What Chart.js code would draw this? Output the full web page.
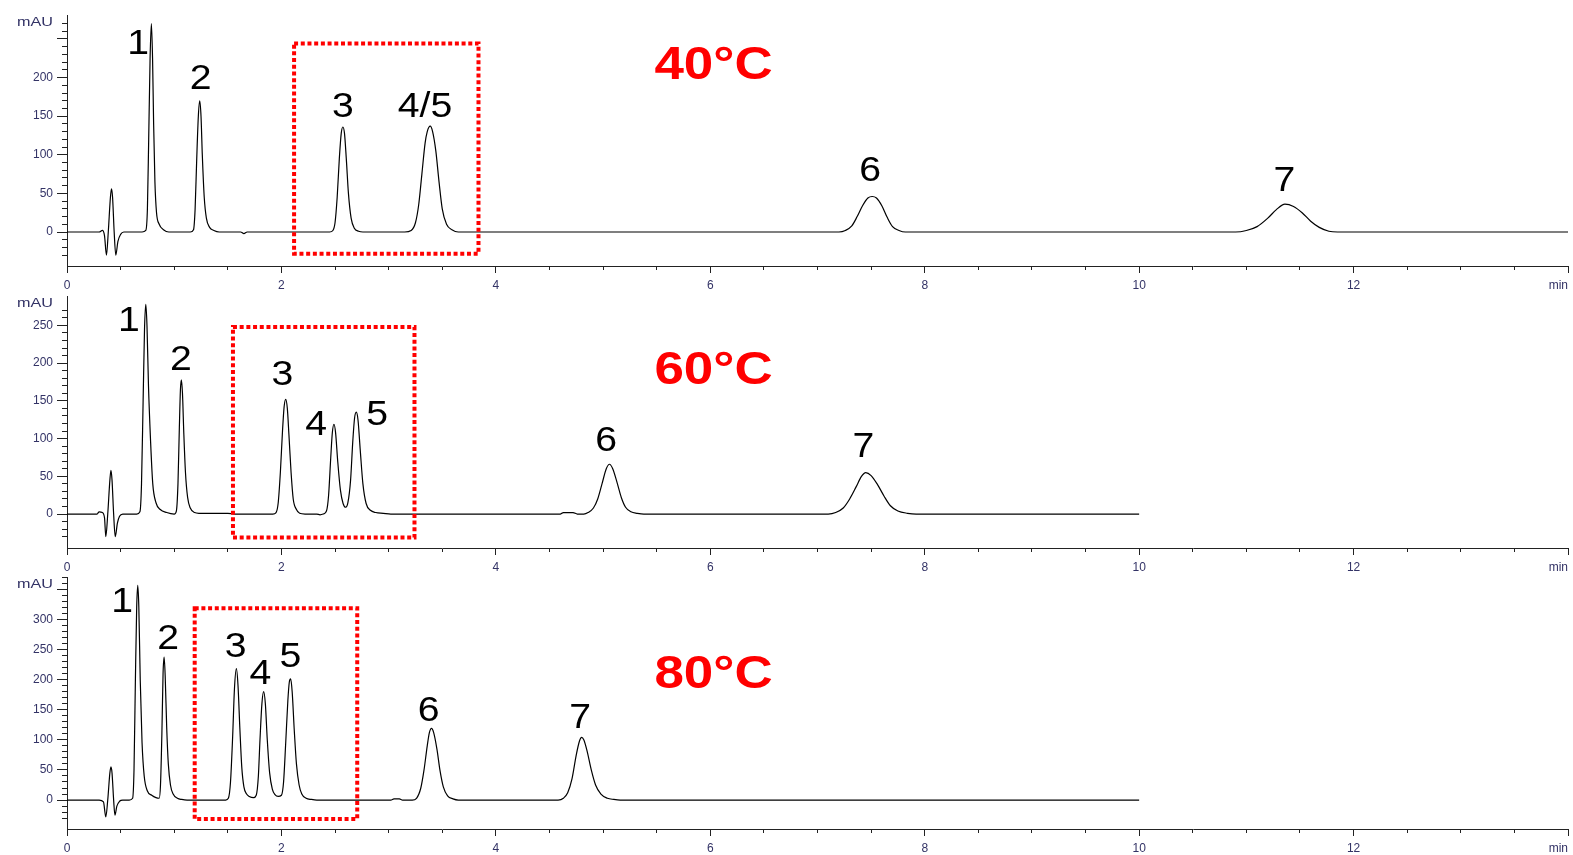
<!DOCTYPE html>
<html>
<head>
<meta charset="utf-8">
<title>Chromatograms at 40, 60 and 80 °C</title>
<script src="https://cdn.jsdelivr.net/npm/chart.js@4.4.0/dist/chart.umd.min.js"></script>
<style>
  body { margin: 0; background: #fff; }
  .panel { position: absolute; left: 0; }
</style>
</head>
<body>
<div class="panel" style="top:0px"><canvas id="c40" width="1573" height="294"></canvas></div>
<div class="panel" style="top:280px"><canvas id="c60" width="1573" height="296"></canvas></div>
<div class="panel" style="top:560px"><canvas id="c80" width="1573" height="295"></canvas></div>
<script>
// 40 °C trace (min / mAU)
const time40 = [
  0, 0.30, 0.33, 0.35, 0.368, 0.385, 0.405, 0.415, 0.425, 0.44, 0.455, 0.475, 0.5, 0.53,
  0.70, 0.735, 0.75, 0.762, 0.775, 0.787, 0.798, 0.808, 0.82, 0.835, 0.86, 0.9, 0.95,
  1.15, 1.18, 1.195, 1.21, 1.225, 1.238, 1.25, 1.262, 1.28, 1.30, 1.33, 1.37, 1.42,
  1.62, 1.65, 1.68,
  2.45, 2.48, 2.50, 2.52, 2.54, 2.558, 2.573, 2.588, 2.605, 2.625, 2.65, 2.68, 2.72, 2.76,
  3.15, 3.21, 3.25, 3.28, 3.31, 3.34, 3.36, 3.388, 3.41, 3.44, 3.47, 3.50, 3.54, 3.59, 3.65,
  7.20, 7.26, 7.32, 7.37, 7.42, 7.47, 7.51, 7.55, 7.60, 7.65, 7.70, 7.76, 7.82,
  10.9, 11.0, 11.1, 11.2, 11.28, 11.36, 11.44, 11.52, 11.6, 11.68, 11.77, 11.85, 14.0
];
const signal40 = [
  0, 0, 2, -5, -30, 0, 45, 56, 45, 0, -30, -12, -3, 0,
  0, 2, 30, 120, 225, 270, 225, 140, 65, 25, 10, 3, 0,
  0, 3, 30, 95, 150, 170, 150, 100, 45, 18, 6, 2, 0,
  0, -2, 0,
  0, 2, 12, 45, 95, 128, 136, 128, 95, 50, 18, 5, 1, 0,
  0, 2, 12, 35, 75, 115, 130, 137, 130, 105, 65, 30, 10, 3, 0,
  0, 2, 8, 20, 34, 44, 46, 44, 34, 19, 7, 2, 0,
  0, 2, 7, 18, 29, 36, 33, 25, 14, 6, 1, 0, 0
];

// 60 °C trace
const time60 = [
  0, 0.28, 0.30, 0.33, 0.35, 0.362, 0.38, 0.40, 0.41, 0.42, 0.435, 0.45, 0.47, 0.49, 0.52,
  0.65, 0.68, 0.695, 0.71, 0.723, 0.735, 0.746, 0.76, 0.78, 0.80, 0.83, 0.87, 0.93,
  1.00, 1.02, 1.035, 1.048, 1.058, 1.067, 1.077, 1.09, 1.105, 1.125, 1.15, 1.19, 1.23, 1.5, 1.56,
  1.92, 1.95, 1.97, 1.99, 2.01, 2.025, 2.04, 2.055, 2.07, 2.09, 2.11, 2.14, 2.17, 2.22, 2.33, 2.36, 2.39,
  2.42, 2.44, 2.46, 2.475, 2.49, 2.505, 2.525, 2.55, 2.575, 2.60,
  2.62, 2.645, 2.665, 2.682, 2.698, 2.714, 2.735, 2.76, 2.79, 2.83, 2.88, 2.95, 3.02,
  4.60, 4.63, 4.72, 4.76,
  4.82, 4.86, 4.91, 4.95, 4.99, 5.03, 5.06, 5.09, 5.13, 5.17, 5.21, 5.26, 5.32, 5.38,
  7.10, 7.17, 7.24, 7.30, 7.36, 7.41, 7.45, 7.50, 7.56, 7.62, 7.68, 7.75, 7.84, 7.92, 10.0
];
const signal60 = [
  0, 0, 3, 2, -5, -30, 0, 45, 58, 45, 0, -30, -12, -3, 0,
  0, 3, 40, 150, 245, 278, 250, 170, 95, 40, 15, 6, 2,
  0, 4, 40, 115, 165, 178, 160, 105, 55, 22, 8, 2, 1, 1, 0,
  0, 2, 15, 55, 110, 142, 152, 140, 105, 55, 20, 6, 1, 0, 0, -1, 0,
  4, 25, 75, 108, 119, 108, 70, 32, 14, 9,
  15, 45, 95, 127, 135, 125, 85, 40, 14, 5, 2, 1, 0,
  0, 2, 2, 0,
  0, 2, 8, 20, 40, 60, 66, 60, 42, 22, 9, 3, 1, 0,
  0, 2, 8, 20, 36, 50, 55, 51, 39, 24, 11, 4, 1, 0, 0
];

// 80 °C trace
const time80 = [
  0, 0.30, 0.34, 0.362, 0.38, 0.40, 0.41, 0.42, 0.435, 0.447, 0.465, 0.49, 0.52,
  0.58, 0.612, 0.625, 0.638, 0.650, 0.66, 0.67, 0.683, 0.70, 0.72, 0.75, 0.79, 0.83,
  0.86, 0.872, 0.885, 0.896, 0.906, 0.916, 0.93, 0.945, 0.965, 0.99, 1.03, 1.07, 1.12,
  1.48, 1.505, 1.525, 1.545, 1.562, 1.58, 1.595, 1.612, 1.63, 1.65, 1.675, 1.70, 1.74,
  1.765, 1.785, 1.80, 1.818, 1.834, 1.85, 1.868, 1.89, 1.915, 1.94, 1.97,
  2.00, 2.02, 2.04, 2.06, 2.073, 2.086, 2.10, 2.12, 2.14, 2.165, 2.19, 2.23, 2.28, 2.33,
  3.02, 3.05, 3.10, 3.13,
  3.22, 3.26, 3.30, 3.33, 3.36, 3.38, 3.40, 3.42, 3.45, 3.48, 3.51, 3.55, 3.60, 3.65,
  4.58, 4.63, 4.67, 4.71, 4.75, 4.78, 4.80, 4.82, 4.85, 4.89, 4.93, 4.98, 5.04, 5.10, 5.16, 10.0
];
const signal80 = [
  0, 0, -3, -28, 0, 45, 55, 45, 0, -25, -10, -2, 0,
  0, 3, 50, 200, 320, 356, 320, 200, 95, 40, 15, 8, 4,
  3, 25, 110, 210, 237, 205, 120, 60, 25, 10, 3, 1, 0,
  0, 3, 30, 105, 185, 218, 190, 120, 55, 22, 10, 6, 4,
  8, 40, 100, 160, 180, 160, 100, 45, 18, 9, 6,
  8, 30, 95, 165, 195, 201, 180, 115, 60, 25, 10, 3, 1, 0,
  0, 2, 2, 0,
  0, 3, 20, 50, 90, 112, 119, 112, 85, 48, 22, 7, 2, 0,
  0, 3, 12, 35, 75, 98, 104, 100, 82, 50, 25, 10, 3, 1, 0, 0
];

// peak numbers, anchored at (min, mAU)
const peaks40 = ['1', '2', '3', '4/5', '6', '7'];
const peakTime40 = [0.664, 1.247, 2.573, 3.339, 7.49, 11.356];
const peakLevel40 = [243, 198, 161, 161, 78, 65];

const peaks60 = ['1', '2', '3', '4', '5', '6', '7'];
const peakTime60 = [0.577, 1.063, 2.008, 2.325, 2.892, 5.028, 7.428];
const peakLevel60 = [255, 204, 184, 118, 131, 97, 89];

const peaks80 = ['1', '2', '3', '4', '5', '6', '7'];
const peakTime80 = [0.515, 0.943, 1.572, 1.805, 2.084, 3.372, 4.787];
const peakLevel80 = [328, 266, 253, 208, 237, 147, 136];

const temps = ['40°C', '60°C', '80°C'];
const tempTime = [6.03, 6.03, 6.03];
const tempLevel = [214, 189, 207];

// highlighted window: [from min, to min, top mAU, bottom mAU]
const box40 = [2.118, 3.838, 244, -28];
const box60 = [1.548, 3.241, 248, -31];
const box80 = [1.191, 2.707, 318, -31.5];

const yRange40 = [-44, 281];
const yRange60 = [-45, 289];
const yRange80 = [-48, 370];

const axisColor = '#222';
const labelColor = '#333366';

function stretchedText(ctx, text, x, y, sx) {
  ctx.save();
  ctx.translate(x, y);
  ctx.scale(sx, 1);
  ctx.fillText(text, 0, 0);
  ctx.restore();
}

function makePanel(id, times, signal, yRange, padTop, xHeight, hidden, peaks, pTime, pLevel, tIdx, box) {
  const points = times.map((t, i) => ({ x: t, y: signal[i] }));

  const marks = {
    id: 'marks',
    afterDraw(chart) {
      const ctx = chart.ctx;
      const xs = chart.scales.x, ys = chart.scales.y, area = chart.chartArea;
      ctx.save();

      // red dotted window
      ctx.strokeStyle = '#ff0000';
      ctx.lineWidth = 4;
      ctx.setLineDash([4, 2.7]);
      const bx1 = xs.getPixelForValue(box[0]), bx2 = xs.getPixelForValue(box[1]);
      const by1 = ys.getPixelForValue(box[2]), by2 = ys.getPixelForValue(box[3]);
      ctx.strokeRect(bx1, by1, bx2 - bx1, by2 - by1);
      ctx.setLineDash([]);

      // peak numbers
      ctx.fillStyle = '#000';
      ctx.font = '35px Arial';
      ctx.textAlign = 'center';
      ctx.textBaseline = 'middle';
      peaks.forEach((p, i) => {
        stretchedText(ctx, p, xs.getPixelForValue(pTime[i]), ys.getPixelForValue(pLevel[i]), 1.12);
      });

      // temperature
      ctx.fillStyle = '#ff0000';
      ctx.font = 'bold 46px Arial';
      stretchedText(ctx, temps[tIdx], xs.getPixelForValue(tempTime[tIdx]), ys.getPixelForValue(tempLevel[tIdx]), 1.15);

      // axis units
      ctx.fillStyle = labelColor;
      ctx.font = '12px Arial';
      ctx.textAlign = 'right';
      stretchedText(ctx, 'mAU', 53, area.top + 8, 1.35);
      stretchedText(ctx, 'min', area.right, area.bottom + 20, 1);
      ctx.restore();
    }
  };

  return new Chart(document.getElementById(id), {
    type: 'line',
    data: {
      datasets: [{
        data: points,
        borderColor: '#000',
        borderWidth: 1.2,
        pointRadius: 0,
        fill: false,
        cubicInterpolationMode: 'monotone'
      }]
    },
    options: {
      responsive: false,
      animation: false,
      events: [],
      layout: { padding: { top: padTop, right: 3, left: 0, bottom: 0 } },
      plugins: { legend: { display: false }, tooltip: { enabled: false } },
      scales: {
        x: {
          type: 'linear',
          min: 0,
          max: 14,
          afterBuildTicks: s => { s.ticks = s.ticks.filter(t => Math.abs(t.value * 2 - Math.round(t.value * 2)) < 1e-6); },
          afterFit: s => { s.height = xHeight; },
          ticks: {
            stepSize: 0.5,
            autoSkip: false,
            maxRotation: 0,
            padding: 5,
            color: labelColor,
            font: { family: 'Arial', size: 12 },
            callback: v => (v % 2 === 0 && v < 14) ? v : ''
          },
          grid: {
            drawOnChartArea: false,
            tickLength: 7,
            tickColor: axisColor,
            tickWidth: 1,
            tickBorderDash: c => (c.tick && c.tick.value % 2 !== 0) ? [3, 20] : []
          },
          border: { color: axisColor, width: 1 }
        },
        y: {
          min: yRange[0],
          max: yRange[1],
          afterBuildTicks: s => { s.ticks = s.ticks.filter(t => t.value % 10 === 0); },
          afterFit: s => { s.width = 67; },
          ticks: {
            stepSize: 10,
            autoSkip: false,
            padding: 4,
            color: labelColor,
            font: { family: 'Arial', size: 12 },
            callback: v => (v % 50 === 0 && !hidden.includes(v)) ? v : ''
          },
          grid: {
            drawOnChartArea: false,
            tickLength: 10,
            tickColor: axisColor,
            tickWidth: 1,
            tickBorderDash: c => (c.tick && c.tick.value % 50 !== 0) ? [0, 5, 5, 0] : []
          },
          border: { color: axisColor, width: 1 }
        }
      }
    },
    plugins: [marks]
  });
}

makePanel('c40', time40, signal40, yRange40, 15, 28, [250], peaks40, peakTime40, peakLevel40, 0, box40);
makePanel('c60', time60, signal60, yRange60, 16, 28, [], peaks60, peakTime60, peakLevel60, 1, box60);
makePanel('c80', time80, signal80, yRange80, 17, 26, [350], peaks80, peakTime80, peakLevel80, 2, box80);
</script>
</body>
</html>
